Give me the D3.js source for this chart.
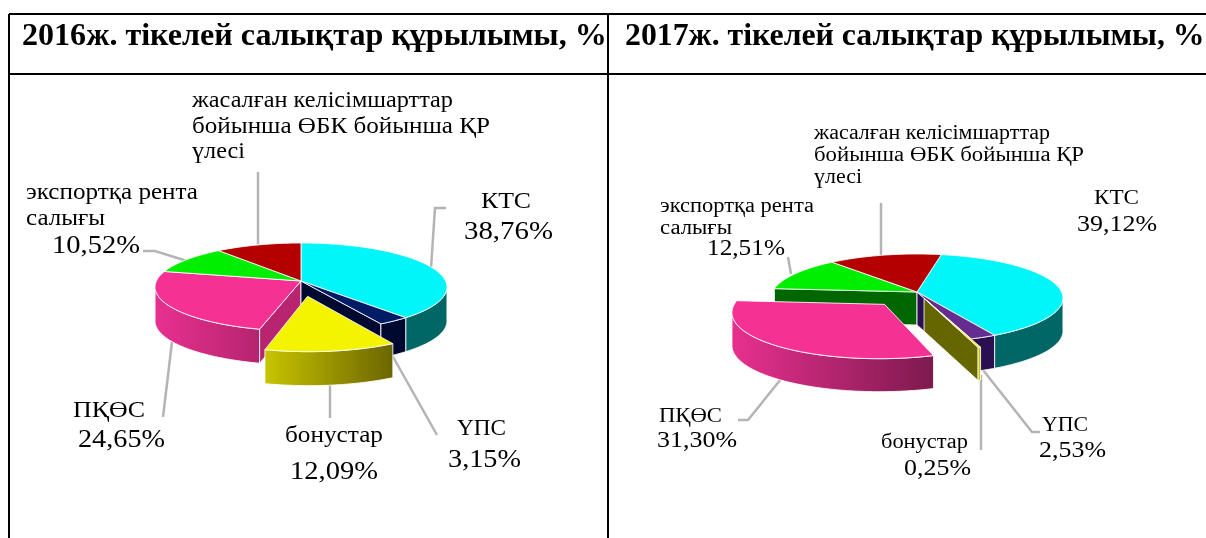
<!DOCTYPE html>
<html><head><meta charset="utf-8">
<script src="https://cdn.jsdelivr.net/npm/d3@7/dist/d3.min.js"></script>
<style>html,body{margin:0;padding:0;background:#fff;overflow:hidden}svg{display:block;filter:blur(0.35px)}
text{font-family:"Liberation Serif",serif;fill:#000}</style></head><body>
<svg id="c" width="1206" height="538"></svg>
<script>
const categories=["КТС","ҮПС","бонустар","ПҚӨС","экспортқа рента салығы","жасалған келісімшарттар бойынша ӨБК бойынша ҚР үлесі"];
const values2016=[38.76,3.15,12.09,24.65,10.52,10.83];
const values2017=[39.12,2.53,0.25,31.30,12.51,14.29];
const titles=["2016ж. тікелей салықтар құрылымы, %","2017ж. тікелей салықтар құрылымы, %"];
const topColors=["#00f6f8","#001c66","#f4f400","#f53294","#00ee00","#b40000"];
const topColors2017=["#00f6f8","#662d91","#f4f400","#f53294","#00ee00","#b40000"];

const svg=d3.select("#c");
const defs=svg.append("defs");
function grad(id,a,b){const g=defs.append("linearGradient").attr("id",id).attr("x1",0).attr("x2",1).attr("y1",0).attr("y2",0);
  g.append("stop").attr("offset",0).attr("stop-color",a);g.append("stop").attr("offset",1).attr("stop-color",b);return `url(#${id})`;}
const pink16=grad("p16","#e8308f","#b5246f"),yel16=grad("y16","#c8c400","#6b6500"),pink17=grad("p17","#e8308f","#7d1a4e");

// table
const frame=[[9,14,1206,14],[9,74,1206,74],[9,14,9,538],[608,14,608,538]];
svg.selectAll("line.f").data(frame).join("line").attr("x1",d=>d[0]).attr("y1",d=>d[1]).attr("x2",d=>d[2]).attr("y2",d=>d[3]).attr("stroke","#000").attr("stroke-width",2);
svg.append("text").attr("x",22).attr("y",45).attr("font-size",32.1).attr("font-weight","bold").text(titles[0]);
svg.append("text").attr("x",625).attr("y",45).attr("font-size",31.8).attr("font-weight","bold").text(titles[1]);

const k=0.1364,Hh=43.2,R=144.6;
function drawPie(o){
  const g=svg.append("g");
  const pie=d3.pie().sort(null).startAngle(o.rot).endAngle(o.rot+2*Math.PI)(o.values);
  const proj=(u,v,dep=0)=>{const s=1+k*v;return [o.cx+R*u/s,o.cy-Hh*v/s+dep];};
  const off=i=>{const a=(pie[i].startAngle+pie[i].endAngle)/2,e=o.explode[i]||0;return [e*Math.sin(a),e*Math.cos(a)];};
  const rim=(i,a)=>{const c=off(i);return [c[0]+Math.sin(a),c[1]+Math.cos(a)];};
  const line=d3.line();
  const top=i=>{const p=pie[i],c=off(i),n=Math.max(2,Math.ceil((p.endAngle-p.startAngle)*40));
    const pts=[proj(c[0],c[1])].concat(d3.range(n+1).map(j=>{const r=rim(i,p.startAngle+(p.endAngle-p.startAngle)*j/n);return proj(r[0],r[1]);}));
    return line(pts)+"Z";};
  // outer wall: only the run of the rim that faces the viewer (screen x falling as the angle grows)
  const rimWall=(i,a0,a1)=>{const n=Math.max(4,Math.ceil((a1-a0)*60));
    const ang=d3.range(n+1).map(j=>a0+(a1-a0)*j/n);
    const pts=ang.map(a=>{const r=rim(i,a);return proj(r[0],r[1]);});
    const keep=ang.filter((a,j)=>(j<n&&pts[j+1][0]<pts[j][0])||(j>0&&pts[j][0]<pts[j-1][0]));
    if(keep.length<2) return null;
    const up=keep.map(a=>{const r=rim(i,a);return proj(r[0],r[1]);});
    const dn=keep.slice().reverse().map(a=>{const r=rim(i,a);return proj(r[0],r[1],o.depth);});
    return line(up.concat(dn))+"Z";};
  const cutWall=(i,a)=>{const c=off(i),r=rim(i,a);
    return line([proj(c[0],c[1]),proj(r[0],r[1]),proj(r[0],r[1],o.depth),proj(c[0],c[1],o.depth)])+"Z";};
  const paint=(d,f)=>{if(d) g.append("path").attr("d",d).attr("fill",f).attr("stroke","#fff").attr("stroke-opacity",.85).attr("stroke-width",1).attr("stroke-linejoin","round");};
  const wall=w=>{const p=pie[w.i];
    if(w.cut) paint(cutWall(w.i,w.cut==="start"?p.startAngle:p.endAngle),w.fill);
    else paint(rimWall(w.i,p.startAngle,p.endAngle),w.fill);};
  o.under.forEach(wall);
  pie.forEach((p,i)=>{if(!o.explode[i]) paint(top(i),o.colors[i]);});
  o.over.forEach(wall);
  pie.forEach((p,i)=>{if(o.explode[i]) paint(top(i),o.colors[i]);});
}
// leaders first so that pies overlap them
const leaders=[
 [[258,172],[258,244]],[[446,208],[435,208],[431,268]],[[143,251],[155,251],[187,261]],[[163,417],[172,342]],[[330,418],[330,384]],[[437,435],[392,355]],
 [[881,203],[881,256]],[[788,257],[791,274]],[[738,420],[748,420],[781,379]],[[981,375],[981,450]],[[983,370],[1032,432],[1040,432]]];
svg.selectAll("path.l").data(leaders).join("path").attr("d",d3.line()).attr("fill","none").attr("stroke","#b4b4b4").attr("stroke-width",2.5);

drawPie({cx:301,cy:281,rot:0,depth:34,values:values2016,colors:topColors,explode:{2:.34},
 under:[{i:3,cut:"start",fill:"#b8246f"},{i:1,cut:"end",fill:"#000a30"},{i:0,fill:"#006666"},{i:1,fill:"#000a30"},{i:3,fill:pink16}],
 over:[{i:2,fill:yel16}]});
drawPie({cx:917,cy:292,rot:11*Math.PI/180,depth:33,values:values2017,colors:topColors2017,explode:{2:.15,3:.35},
 under:[{i:4,cut:"start",fill:"#006600"},{i:1,cut:"end",fill:"#2a1050"},{i:0,fill:"#006666"},{i:1,fill:"#2a1050"}],
 over:[{i:3,fill:pink17},{i:2,cut:"end",fill:"#666600"},{i:2,fill:"#c8c800"}]});

const labels=[
 ["жасалған келісімшарттар",192,107,22.5,261],["бойынша ӨБК бойынша ҚР",192,133,22.5,298],["үлесі",192,158,22.5,53],
 ["экспортқа рента",26,199,22.5,172],["салығы",26,225,22.5,79],["10,52%",52,253,26,88],
 ["КТС",481,208,22.5,50],["38,76%",464,239,26,89],["ПҚӨС",73,417,22.5,72],["24,65%",78,447,26,87],
 ["бонустар",285,442,22.5,98],["12,09%",290,479,26,88],["ҮПС",457,435,22.5,49],["3,15%",448,467,26,73],
 ["жасалған келісімшарттар",814,139,20,236],["бойынша ӨБК бойынша ҚР",814,161,20,270],["үлесі",814,183,20,48],
 ["экспортқа рента",660,212,20,154],["салығы",660,234,20,72],["12,51%",707,255,23.5,78],
 ["КТС",1094,204,20,45],["39,12%",1077,231,23.5,80],["ПҚӨС",659,422,20,63],["31,30%",657,447,23.5,80],
 ["бонустар",881,448,20,87],["0,25%",904,475,23.5,67],["ҮПС",1042,431,20,46],["2,53%",1039,457,23.5,67]];
svg.selectAll("text.lab").data(labels).join("text").attr("class","lab").attr("x",d=>d[1]).attr("y",d=>d[2]).attr("font-size",d=>d[3])
  .attr("textLength",d=>d[4]).attr("lengthAdjust","spacingAndGlyphs").text(d=>d[0]);
</script></body></html>
